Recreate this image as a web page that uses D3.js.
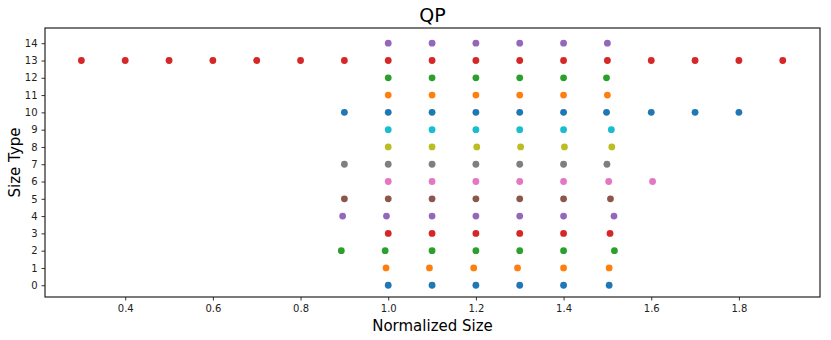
<!DOCTYPE html>
<html>
<head>
<meta charset="utf-8">
<script src="https://cdn.jsdelivr.net/npm/d3@7"></script>
<style>
  body { margin: 0; background: #fff; }
  text { font-family: "DejaVu Sans", sans-serif; }
</style>
</head>
<body>
<svg id="chart" width="831" height="340"></svg>
<script>
// one list of normalized sizes per size type (0..14)
var row0 = [1.0, 1.1, 1.2, 1.3, 1.4, 1.504]
var row1 = [0.995, 1.094, 1.195, 1.295, 1.4, 1.504]
var row2 = [0.893, 0.993, 1.1, 1.2, 1.3, 1.4, 1.516]
var row3 = [1.0, 1.1, 1.2, 1.3, 1.4, 1.506]
var row4 = [0.896, 0.996, 1.1, 1.2, 1.3, 1.4, 1.515]
var row5 = [0.9, 1.0, 1.1, 1.2, 1.3, 1.4, 1.507]
var row6 = [1.0, 1.1, 1.2, 1.3, 1.4, 1.503, 1.603]
var row7 = [0.9, 1.0, 1.1, 1.2, 1.3, 1.4, 1.499]
var row8 = [1.0, 1.1, 1.202, 1.302, 1.402, 1.51]
var row9 = [1.0, 1.1, 1.2, 1.3, 1.4, 1.509]
var row10 = [0.9, 1.0, 1.1, 1.2, 1.3, 1.4, 1.498, 1.6, 1.7, 1.8]
var row11 = [1.0, 1.1, 1.2, 1.3, 1.4, 1.5]
var row12 = [1.0, 1.1, 1.2, 1.3, 1.4, 1.498]
var row13 = [0.3, 0.4, 0.5, 0.6, 0.7, 0.8, 0.9, 1.0, 1.1, 1.2, 1.3, 1.4, 1.5, 1.6, 1.7, 1.8, 1.9]
var row14 = [1.0, 1.1, 1.2, 1.3, 1.4, 1.5]
var rows = [row0, row1, row2, row3, row4, row5, row6, row7, row8, row9, row10, row11, row12, row13, row14]

var xTicks = [0.4, 0.6, 0.8, 1.0, 1.2, 1.4, 1.6, 1.8]
var yTicks = d3.range(0, 15)
var colors = ["#1f77b4", "#ff7f0e", "#2ca02c", "#d62728", "#9467bd",
              "#8c564b", "#e377c2", "#7f7f7f", "#bcbd22", "#17becf"]

var margin = {top: 28, right: 11, bottom: 43, left: 45},
    width = 831 - margin.left - margin.right,
    height = 340 - margin.top - margin.bottom;

var svg = d3.select("#chart")
var g = svg.append("g")
    .attr("transform", "translate(" + margin.left + "," + margin.top + ")")

var x = d3.scaleLinear().domain([0.217, 1.985]).range([0, width])
var y = d3.scaleLinear().domain([-0.68, 14.88]).range([height, 0])

// points, one colour per size type (matplotlib cycle)
var pts = []
rows.forEach(function(r, i) {
    r.forEach(function(v) { pts.push({x: v, y: i, c: colors[i % 10]}) })
})
g.selectAll("circle")
    .data(pts)
    .enter().append("circle")
    .attr("cx", function(d) { return x(d.x) })
    .attr("cy", function(d) { return y(d.y) })
    .attr("r", 3.4)
    .style("fill", function(d) { return d.c })

// axes
var xAxis = g.append("g")
    .attr("transform", "translate(0," + height + ")")
    .call(d3.axisBottom(x).tickValues(xTicks).tickFormat(d3.format(".1f")).tickSize(3.5).tickPadding(4))
var yAxis = g.append("g")
    .call(d3.axisLeft(y).tickValues(yTicks).tickFormat(d3.format("d")).tickSize(3.5).tickPadding(4))
;[xAxis, yAxis].forEach(function(a) {
    a.select(".domain").remove()
    a.selectAll("line").attr("stroke", "#333")
    a.selectAll("text").style("font-size", "10px").attr("fill", "#222")
})

// frame
g.append("rect")
    .attr("width", width).attr("height", height)
    .attr("fill", "none").attr("stroke", "#222").attr("stroke-width", 1.2)

// labels
svg.append("text")
    .attr("x", margin.left + width / 2).attr("y", 22)
    .attr("text-anchor", "middle")
    .style("font-size", "19px")
    .text("QP")
svg.append("text")
    .attr("x", margin.left + width / 2).attr("y", 331)
    .attr("text-anchor", "middle")
    .style("font-size", "15px")
    .text("Normalized Size")
svg.append("text")
    .attr("transform", "translate(20," + (margin.top + height / 2) + ") rotate(-90)")
    .attr("text-anchor", "middle")
    .style("font-size", "15px")
    .text("Size Type")
</script>
</body>
</html>
